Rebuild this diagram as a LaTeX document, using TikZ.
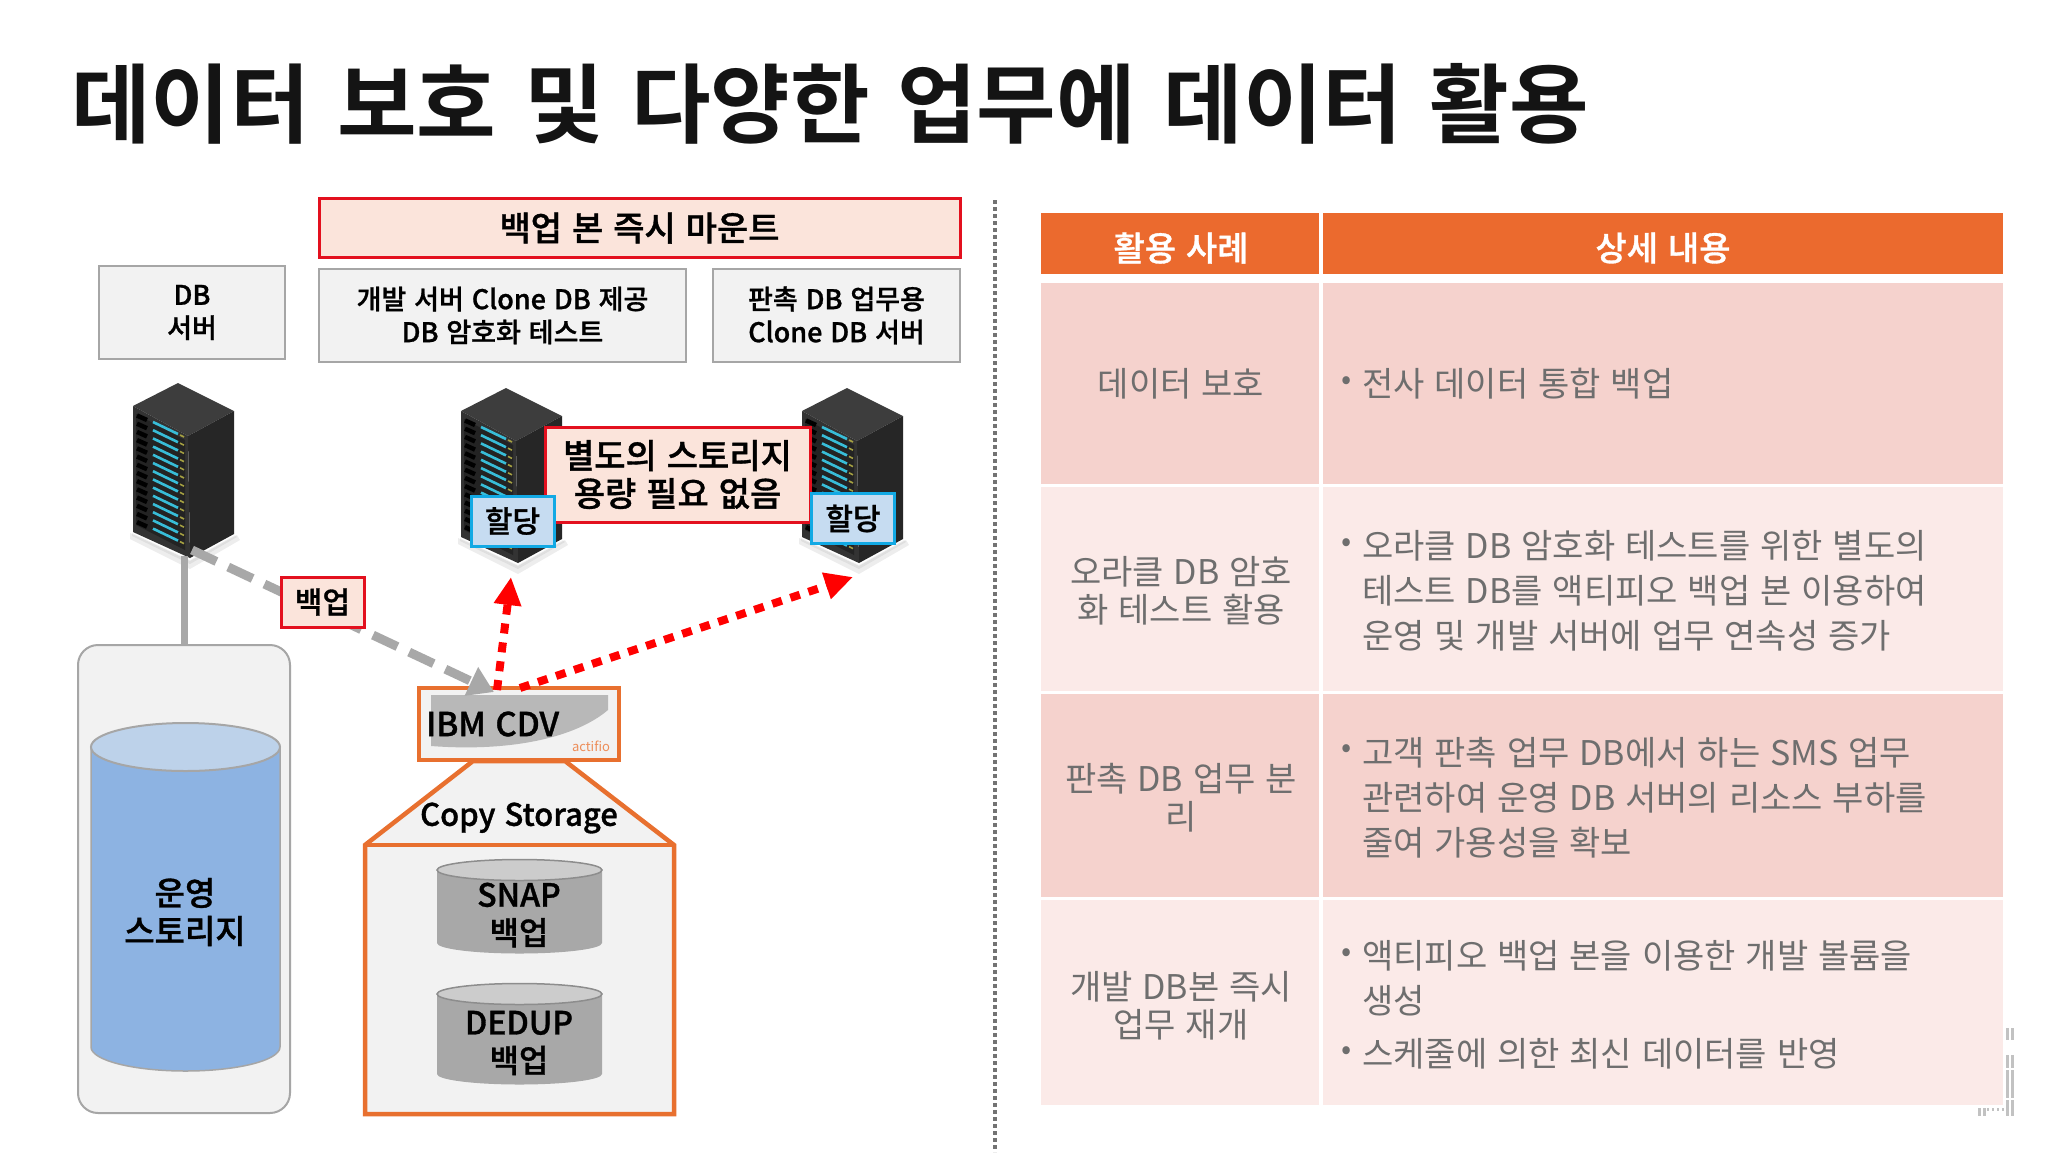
\documentclass[tikz,border=0pt]{standalone}
\usepackage{fontspec}
\setmainfont[BoldFont={Noto Sans CJK KR Medium},BoldFeatures={FakeBold=1},WordSpace=1.3]{Noto Sans CJK KR}
\newfontfamily\titlefont[WordSpace=1.4]{Noto Sans CJK KR Bold}
\usetikzlibrary{arrows.meta}
\newcommand{\fsz}[2]{\fontsize{#1}{#2}\selectfont}
\definecolor{orangeline}{HTML}{E8702F}
\definecolor{headorange}{HTML}{EB6A2E}
\definecolor{rowdark}{HTML}{F5D2CD}
\definecolor{rowlight}{HTML}{FBEAE8}
\definecolor{redline}{HTML}{E3101E}
\definecolor{peach}{HTML}{FBE4DB}
\definecolor{lightbox}{HTML}{F2F2F2}
\definecolor{boxgray}{HTML}{A6A6A6}
\definecolor{midgray}{HTML}{A8A8A8}
\definecolor{celltext}{HTML}{6E6E6E}
\definecolor{alloc}{HTML}{C6DCF1}
\definecolor{allocline}{HTML}{12A9E4}
\definecolor{bluecyl}{HTML}{8DB3E2}
\definecolor{bluetop}{HTML}{BDD2EA}
\definecolor{slat}{HTML}{38BDD8}
\definecolor{racktop}{HTML}{3D3D3D}
\definecolor{rackside}{HTML}{262626}
\definecolor{rackfront}{HTML}{333333}
\definecolor{rackin}{HTML}{232323}
\tikzset{
  greybox/.style={draw=boxgray,fill=lightbox,line width=2.5pt,minimum width=#1,align=center,text=black,font=\fsz{27}{33}\bfseries,inner sep=0pt},
  redbox/.style={draw=redline,fill=peach,line width=3pt,align=center,text=black,inner sep=0pt},
  allocbox/.style={draw=allocline,fill=alloc,line width=3pt,text=black,font=\fsz{30}{36}\bfseries,minimum width=83pt,minimum height=50pt,inner sep=0pt},
  cell/.style={text=celltext,font=\fsz{34}{38},align=center,inner sep=0pt},
  body/.style={text=celltext,font=\fsz{34}{45},align=left,anchor=west,inner sep=0pt},
  bul/.style={text=celltext,font=\fsz{30}{30},inner sep=0pt},
  headtxt/.style={text=white,font=\fsz{34}{38}\bfseries,inner sep=0pt},
  backupline/.style={midgray,line width=9pt,dash pattern=on 27pt off 13pt,-{Triangle[length=25pt,width=30pt]}},
  reddots/.style={red,line width=8pt,dash pattern=on 10pt off 9pt,-{Triangle[length=28pt,width=26pt]}},
  cyltxt/.style={text=black,font=\fsz{32}{38}\bfseries,align=center,inner sep=0pt},
  pics/rack/.style={code={
    \fill[black,opacity=.07] (-3,150) -- (57,178) -- (104,152) -- (107,157) -- (57,186) -- (-3,156) -- cycle;
    \fill[black,opacity=.06] (-1,150) -- (57,177) -- (102,152) -- (104,154) -- (57,181) -- (-1,153) -- cycle;
    \fill[racktop] (45,0) -- (0,23) -- (55,53) -- (101,28) -- cycle;
    \fill[rackside] (55,53) -- (101,28) -- (101,151) -- (57,175) -- cycle;
    \fill[rackfront] (0,23) -- (55,53) -- (57,175) -- (0,149) -- cycle;
    \fill[rackin] (3,31) -- (52,57) -- (52,167) -- (3,142) -- cycle;
    \foreach \i in {0,...,13}{
      \draw[black,line width=4.5pt] (4,{32.5+8.2*\i}) -- (14,{37+8.2*\i});
      \draw[slat,line width=2.6pt] (20,{39+8.2*\i}) -- (45,{51+8.2*\i});
      \draw[yellow!60!black,line width=1.6pt] (47,{52+8.2*\i}) -- (51,{54+8.2*\i});
    }
  }}
}
\begin{document}
\begin{tikzpicture}[x=1pt,y=-1pt]
\useasboundingbox (0,0) rectangle (2048,1152);
\fill[white] (0,0) rectangle (2048,1152);

% title
\node[anchor=west,inner sep=0pt,font=\fsz{86.5}{96}\titlefont,text=black!92!white] (title) at (71,104) {데이터 보호 및 다양한 업무에 데이터 활용};

% divider
\coordinate (divtop) at (995,200);
\coordinate (divbot) at (995,1152);
\draw[black!55!white,line width=4pt,dash pattern=on 4pt off 3pt] (divtop) -- (divbot);

% top boxes
\node[redbox,minimum width=641pt,minimum height=59pt,font=\fsz{34}{38}\bfseries] (mount) at (639.5,228) {\raisebox{-1.5pt}{백업 본 즉시 마운트}};
\node[greybox=186pt,minimum height=93pt] (dbsrv) at (192,312.5) {\raisebox{-3pt}{DB}\\\raisebox{-3pt}{서버}};
\node[greybox=367pt,minimum height=93pt] (devsrv) at (502.5,315.5) {\raisebox{-1.5pt}{개발 서버 Clone DB 제공}\\\raisebox{-1.5pt}{DB 암호화 테스트}};
\node[greybox=247pt,minimum height=93pt] (clonesrv) at (836.5,315.5) {\raisebox{-1.5pt}{판촉 DB 업무용}\\\raisebox{-1.5pt}{Clone DB 서버}};

% servers
\pic at (133,383) {rack};
\pic at (461,388) {rack};
\pic at (802,388) {rack};
\coordinate (srv1b) at (184,556);
\coordinate (srv1d) at (192,550);
\coordinate (cdvin) at (494,692);
\coordinate (cdvr1) at (497,690);
\coordinate (cdvr2) at (520,688);
\coordinate (srv2t) at (511,577);
\coordinate (srv3t) at (853,577);

% storage
\node[draw=boxgray,fill=lightbox,line width=2pt,rounded corners=20pt,minimum width=212pt,minimum height=468pt,inner sep=0pt] (stor) at (184,879) {};
\draw[midgray,line width=7pt] (srv1b) -- (stor.north);
\path[fill=bluecyl] (91,747) -- (280,747) -- (280,1047) arc[start angle=0,end angle=180,x radius=94.5,y radius=24] -- cycle;
\draw[boxgray,line width=1.5pt] (91,747) -- (91,1047) arc[start angle=180,delta angle=-180,x radius=94.5,y radius=24] -- (280,747);
\draw[boxgray,line width=2pt,fill=bluetop] (185.5,747) ellipse[x radius=94.5,y radius=24];
\node[cyltxt,font=\fsz{33}{38}\bfseries] (opst) at (185,912) {운영\\스토리지};

% copy storage
\draw[orangeline,line width=4.5pt,fill=lightbox,line join=miter] (473,761) -- (365,845) -- (365,1114) -- (674,1114) -- (674,845) -- (565,761) -- cycle;
\draw[orangeline,line width=4.5pt] (365,845) -- (674,845);
\node[inner sep=0pt,font=\fsz{31}{36}\bfseries,text=black] (copy) at (519,818) {Copy Storage};
\foreach \t/\h in {870/73,994/80}{
  \path[fill=midgray] (437,\t) -- (602,\t) -- ++(0,\h) arc[start angle=0,end angle=180,x radius=82.5,y radius=10.5] -- cycle;
  \draw[boxgray!85!black,line width=1.5pt,fill=black!20!white] (519.5,\t) ellipse[x radius=82.5,y radius=10.5];
}
\node[cyltxt] (snaptx) at (519,915) {SNAP\\백업};
\node[cyltxt] (deduptx) at (519,1043) {DEDUP\\백업};

% CDV
\node[draw=orangeline,fill=lightbox,line width=4.5pt,minimum width=200pt,minimum height=72pt,inner sep=0pt] (cdv) at (519,724) {};
\fill[black!28!white] (431,695) -- (608,695) -- (608,710) .. controls (575,738) and (510,752) .. (431,746) -- cycle;
\node[inner sep=0pt,font=\fsz{33}{38}\bfseries,text=black,anchor=west] (cdvtx) at (426,724) {IBM CDV};
\node[inner sep=0pt,font=\fsz{13}{14},text=orangeline!80!white] (actif) at (591,746) {actifio};

% connectors
\draw[backupline] (srv1d) -- (cdvin);
\draw[reddots] (cdvr1) -- (srv2t);
\draw[reddots] (cdvr2) -- (srv3t);

% labels over
\node[redbox,minimum width=83pt,minimum height=50pt,font=\fsz{30}{36}\bfseries] (bk) at (322.5,602) {\raisebox{-1.5pt}{백업}};
\node[redbox,minimum width=265pt,minimum height=95pt,font=\fsz{34}{38}\bfseries] (nostor) at (677.5,474.5) {\raisebox{-2.5pt}{별도의 스토리지}\\\raisebox{-2.5pt}{용량 필요 없음}};
\node[allocbox] (al1) at (512.5,521) {\raisebox{-2.5pt}{할당}};
\node[allocbox] (al2) at (853,518.5) {\raisebox{-2.5pt}{할당}};

% table
\fill[headorange] (1041,213) rectangle (1319,274);
\fill[headorange] (1323,213) rectangle (2003,274);
\fill[rowdark] (1041,283) rectangle (1319,484);
\fill[rowdark] (1323,283) rectangle (2003,484);
\fill[rowlight] (1041,487) rectangle (1319,691);
\fill[rowlight] (1323,487) rectangle (2003,691);
\fill[rowdark] (1041,694) rectangle (1319,897);
\fill[rowdark] (1323,694) rectangle (2003,897);
\fill[rowlight] (1041,900) rectangle (1319,1105);
\fill[rowlight] (1323,900) rectangle (2003,1105);

\node[headtxt] (h1) at (1181,248) {활용 사례};
\node[headtxt] (h2) at (1663,248) {상세 내용};
\node[cell] (c1) at (1181,384) {데이터 보호};
\node[cell] (c2) at (1181,591) {오라클 DB 암호\\화 테스트 활용};
\node[cell] (c3) at (1181,798) {판촉 DB 업무 분\\리};
\node[cell] (c4) at (1181,1006) {개발 DB본 즉시\\업무 재개};

\node[bul] (b1) at (1347,383) {•};
\node[body] (t1) at (1362,384) {전사 데이터 통합 백업};
\node[bul] (b2) at (1347,545) {•};
\node[body] (t2) at (1362,591) {오라클 DB 암호화 테스트를 위한 별도의\\테스트 DB를 액티피오 백업 본 이용하여\\운영 및 개발 서버에 업무 연속성 증가};
\node[bul] (b3) at (1347,751) {•};
\node[body] (t3) at (1362,798) {고객 판촉 업무 DB에서 하는 SMS 업무\\관련하여 운영 DB 서버의 리소스 부하를\\줄여 가용성을 확보};
\node[bul] (b4) at (1347,955) {•};
\node[body] (t4) at (1362,978) {액티피오 백업 본을 이용한 개발 볼륨을\\생성};
\node[bul] (b5) at (1347,1053) {•};
\node[body] (t5) at (1362,1054) {스케줄에 의한 최신 데이터를 반영};

% corner marks
\foreach \x in {2007,2012}{
  \foreach \a/\b in {1028/1040,1055/1068,1070/1098,1100/1116}{
    \fill[black!24!white] (\x-1.5,\a) rectangle (\x+1.5,\b);
  }
}
\fill[black!24!white] (1978,1108) rectangle (1981,1116);
\fill[black!24!white] (1983,1108) rectangle (1986,1116);
\foreach \x in {1988,1993,1998,2003}{\fill[black!24!white] (\x-1,1108) rectangle (\x+1,1111);}
\end{tikzpicture}
\end{document}
